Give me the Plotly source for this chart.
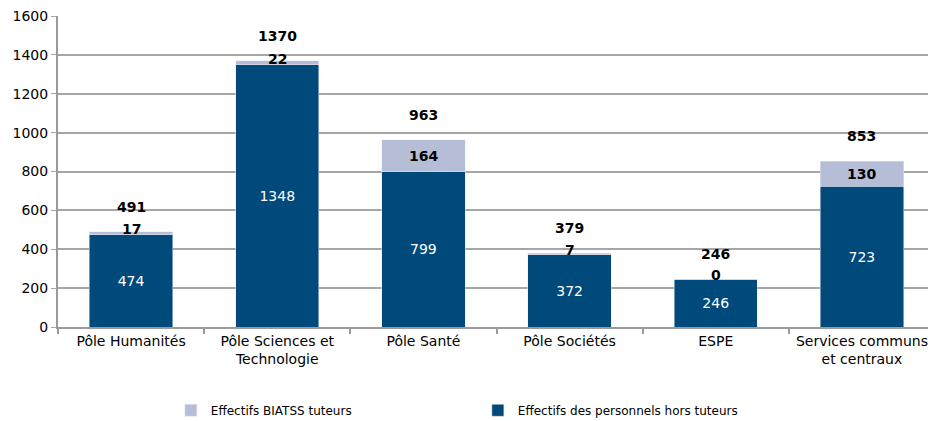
import plotly.graph_objects as go

# data
categories = ["Pôle Humanités", "Pôle Sciences et<br>Technologie", "Pôle Santé",
              "Pôle Sociétés", "ESPE", "Services communs<br>et centraux"]
hors_tuteurs = [474, 1348, 799, 372, 246, 723]
biatss_tuteurs = [17, 22, 164, 7, 0, 130]
totals = [491, 1370, 963, 379, 246, 853]
# ---------------------------------------------------------------------------

dark = "#00497b"
light = "#b6bdd6"
font = "DejaVu Sans"

fig = go.Figure()
fig.add_trace(go.Bar(
  x=categories, y=hors_tuteurs, name="Effectifs des personnels hors tuteurs",
  marker_color=dark, text=hors_tuteurs, textposition="inside", insidetextanchor="middle",
  textangle=0,
  textfont=dict(color="white", size=14, family=font), width=0.57
))
fig.add_trace(go.Bar(
  x=categories, y=biatss_tuteurs, name="Effectifs BIATSS tuteurs",
  marker_color=light, width=0.57, textposition="none"
))

# labels of the light segment (centre of segment) and totals above
for cat, base, val, tot in zip(categories, hors_tuteurs, biatss_tuteurs, totals):
  fig.add_annotation(x=cat, y=base + val / 2, text="<b>%d</b>" % val, showarrow=False,
                     yshift=4 if val < 30 else 0,
                     font=dict(color="black", size=14, family=font))
  fig.add_annotation(x=cat, y=tot, text="<b>%d</b>" % tot, showarrow=False, yshift=25,
                     font=dict(color="black", size=14, family=font))

fig.update_layout(
  barmode="stack", width=936, height=421,
  margin=dict(l=50, r=9, t=8, b=102, autoexpand=False),
  plot_bgcolor="white", paper_bgcolor="white",
  font=dict(family=font, size=12, color="black"),
  legend=dict(orientation="h", xref="container", yref="container", x=0.174, xanchor="left",
              y=0.01, yanchor="bottom", traceorder="reversed", entrywidth=262,
              font=dict(size=12)),
  showlegend=True,
)
fig.update_xaxes(showline=True, linecolor="#9a9a9a", linewidth=2, ticks="outside",
                 tickson="boundaries", ticklen=5, tickcolor="#9a9a9a", tickwidth=2,
                 tickfont=dict(size=14), tickangle=0, automargin=False)
fig.update_yaxes(range=[0, 1600], dtick=200, showgrid=True, gridcolor="#a6a6a6",
                 gridwidth=1.5, showline=True, linecolor="#9a9a9a", linewidth=2,
                 ticks="outside", ticklen=5, tickcolor="#a6a6a6", zeroline=False,
                 tickfont=dict(size=14), automargin=False, ticklabeloverflow="allow")

fig.write_html("out.html")
